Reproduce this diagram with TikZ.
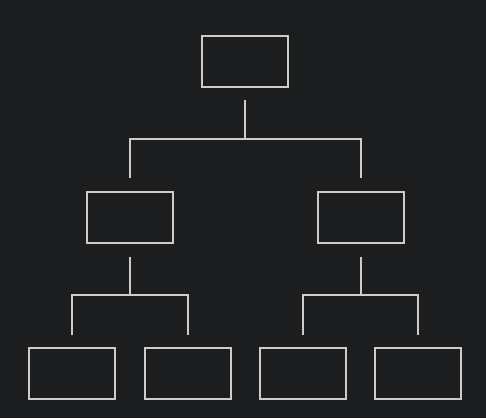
\documentclass[tikz,border=0pt]{standalone}
\definecolor{bg}{RGB}{28,29,31}
\definecolor{ln}{RGB}{204,204,200}
\begin{document}
\begin{tikzpicture}[x=1pt,y=1pt,
  box/.style={draw=ln,line width=2pt,minimum width=86pt,minimum height=51pt,inner sep=0pt},
  conn/.style={draw=ln,line width=2pt}]
\fill[bg] (0,0) rectangle (486,418);
\useasboundingbox (0,0) rectangle (486,418);
\node[box] (top) at (245,356.5) {};
\node[box] (ml) at (130,201) {};
\node[box] (mr) at (360.5,201) {};
\node[box] (b1) at (72,44.5) {};
\node[box] (b2) at (187.5,44.5) {};
\node[box] (b3) at (302.5,44.5) {};
\node[box] (b4) at (418,44.5) {};
\coordinate (j0) at (245,279);
\coordinate (j1) at (130,123);
\coordinate (j2) at (360.5,123);
\draw[conn] ([yshift=-12pt]top.south) -- (j0);
\draw[conn] ([yshift=13pt]ml.north) |- (j0) -| ([yshift=13pt]mr.north);
\draw[conn] ([yshift=-13pt]ml.south) -- (j1);
\draw[conn] ([yshift=12pt]b1.north) |- (j1) -| ([yshift=12pt]b2.north);
\draw[conn] ([yshift=-13pt]mr.south) -- (j2);
\draw[conn] ([yshift=12pt]b3.north) |- (j2) -| ([yshift=12pt]b4.north);
\end{tikzpicture}
\end{document}
